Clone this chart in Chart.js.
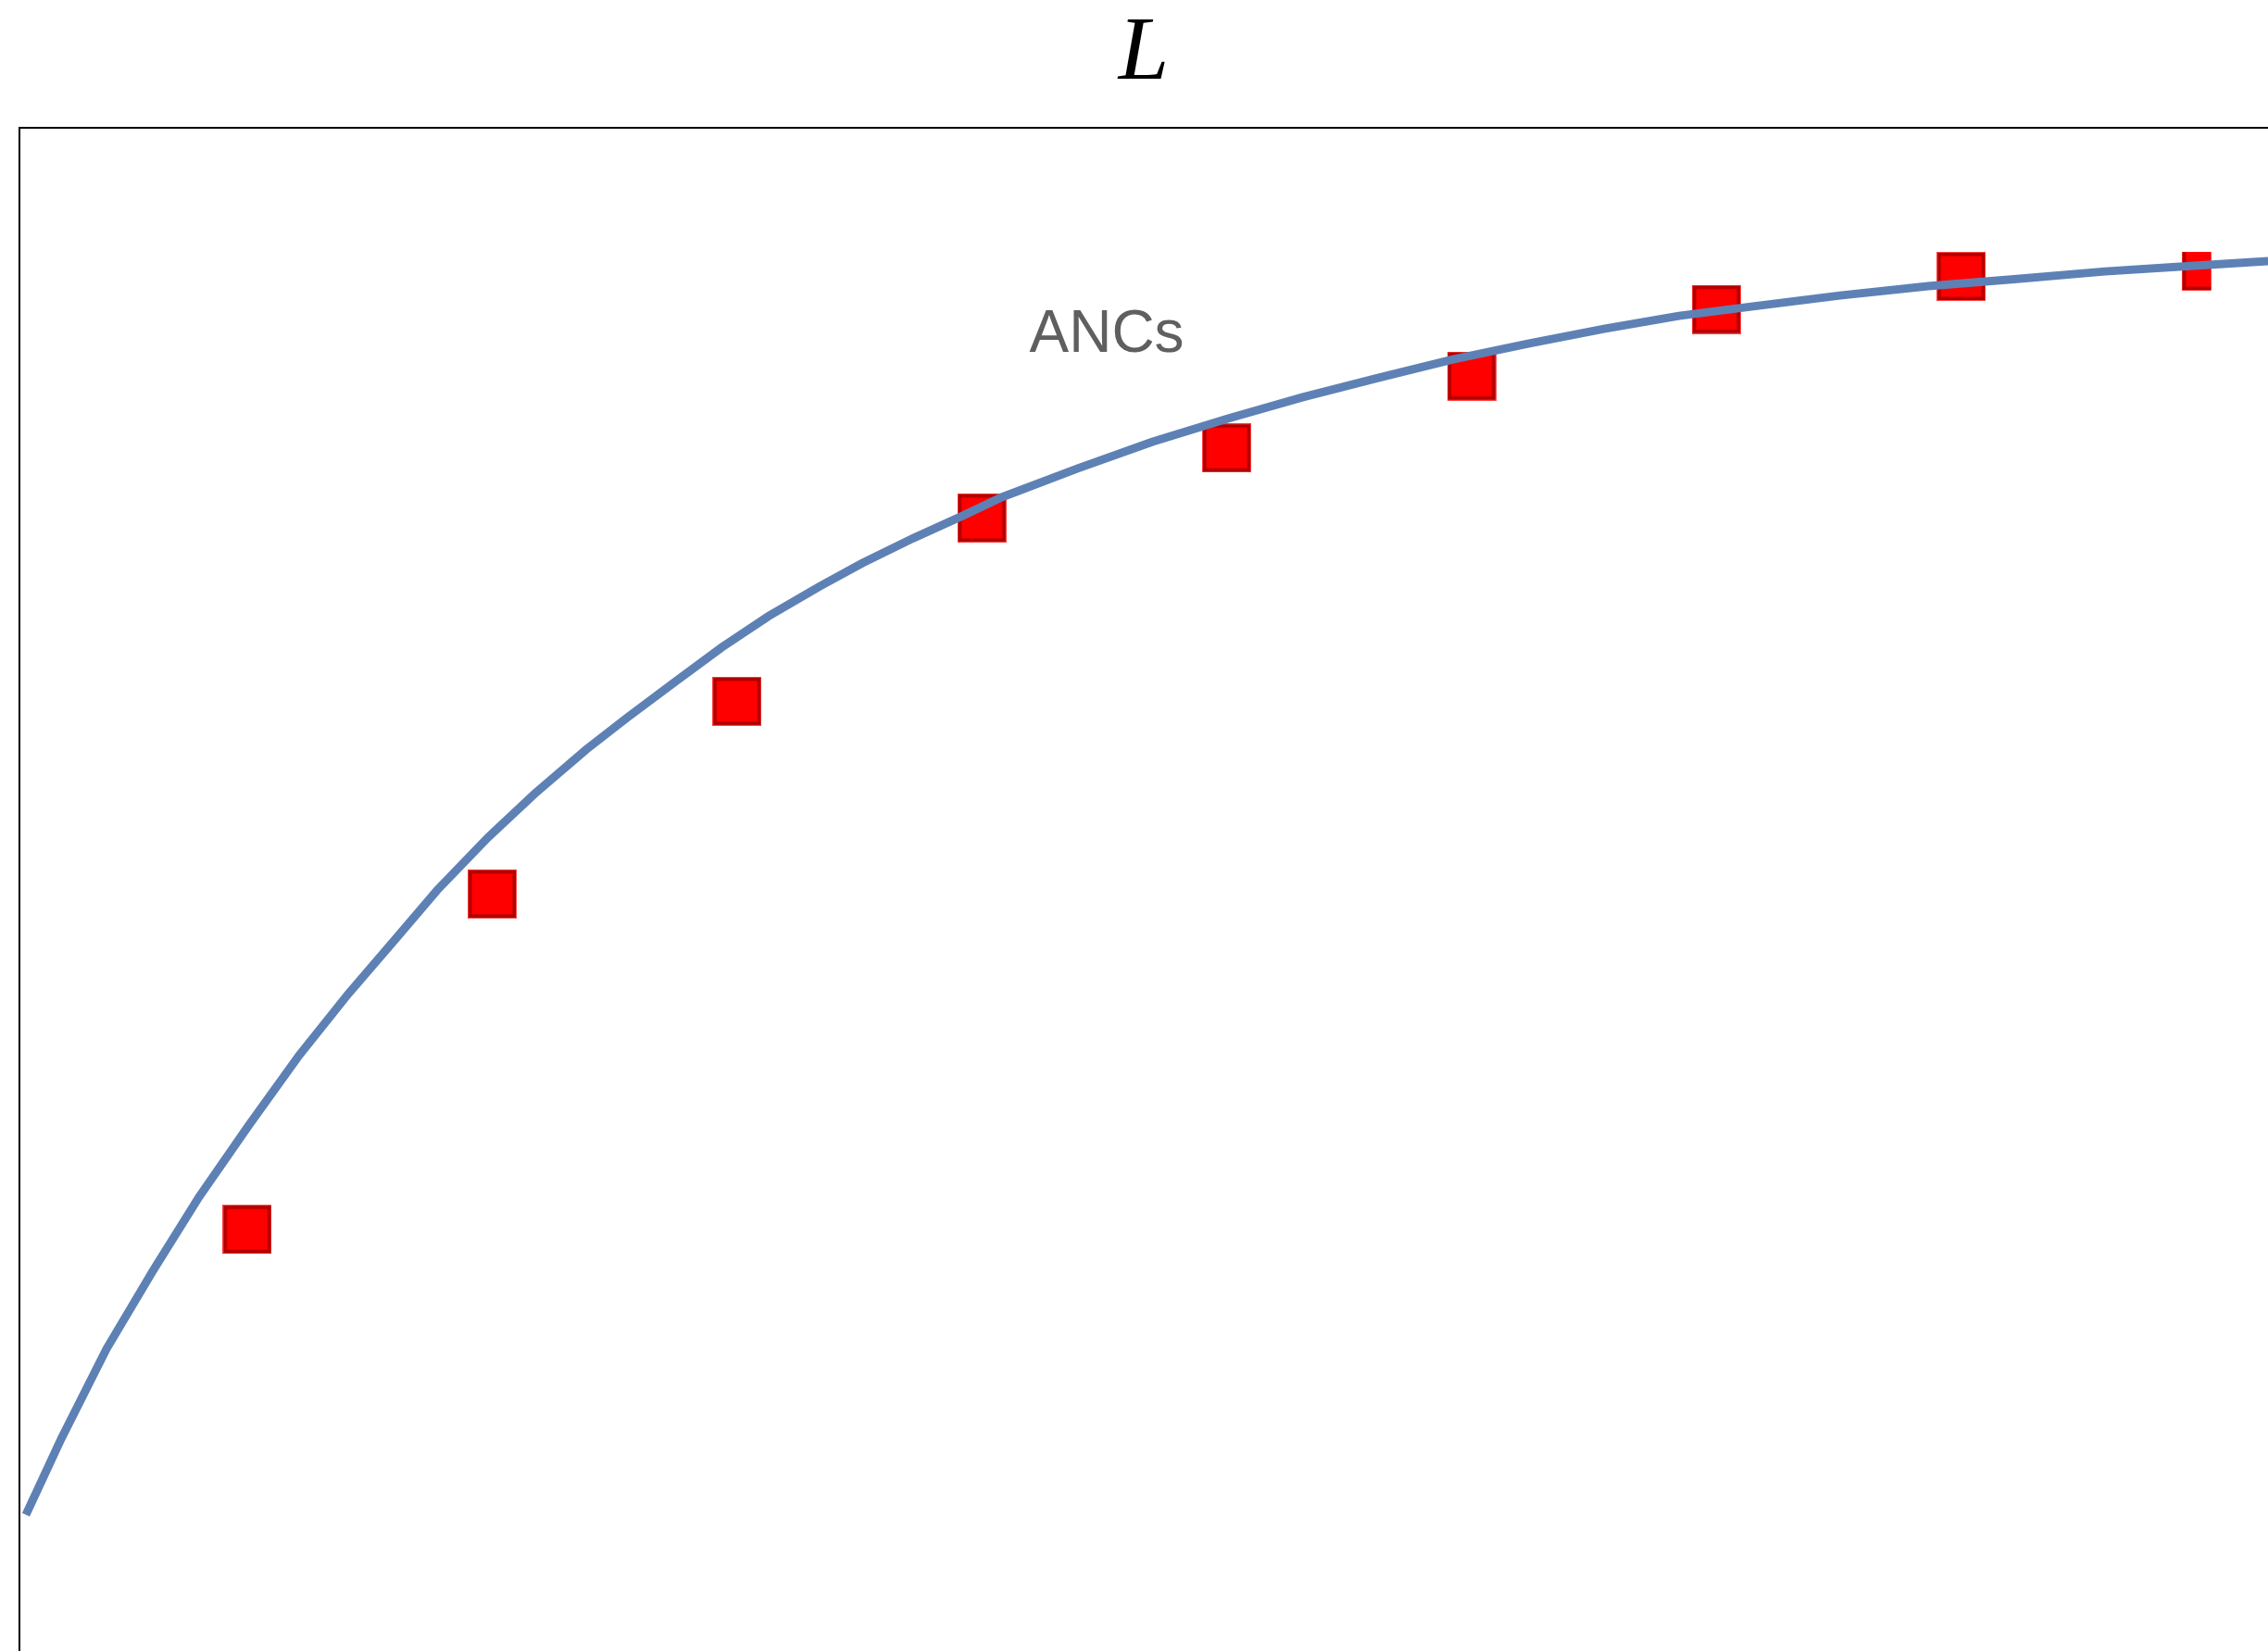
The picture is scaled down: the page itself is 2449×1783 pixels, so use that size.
<!DOCTYPE html>
<html>
<head>
<meta charset="utf-8">
<script src="https://cdn.jsdelivr.net/npm/chart.js@4.4.1/dist/chart.umd.min.js"></script>
<style>
  html, body { margin: 0; padding: 0; background: #fff; overflow: hidden; }
  canvas { display: block; }
</style>
</head>
<body>
<canvas id="c" width="2449" height="1783"></canvas>
<script>
const titleText = 'L';
const seriesLabel = 'ANCs';

// red squares
const pointX = [1, 2, 3, 4, 5, 6, 7, 8, 9];
const pointY = [0.2768, 0.4970, 0.6235, 0.7439, 0.7898, 0.8370, 0.8808, 0.9024, 0.9091];

// blue curve
const curveX = [0.096, 0.240, 0.425, 0.614, 0.803, 1.008, 1.212, 1.412, 1.617, 1.775,
  1.983, 2.173, 2.384, 2.554, 2.747, 2.937, 3.129, 3.337, 3.511, 3.719,
  3.927, 4.079, 4.389, 4.695, 5.002, 5.308, 5.618, 5.924, 6.231, 6.541,
  6.847, 7.142, 7.505, 7.865, 8.228, 8.587, 8.950, 9.253];
const curveY = [0.0894, 0.1393, 0.1983, 0.2494, 0.2981, 0.3455, 0.3911, 0.4313, 0.4696, 0.4994,
  0.5341, 0.5627, 0.5918, 0.6131, 0.6363, 0.6588, 0.6794, 0.6989, 0.7141, 0.7305,
  0.7457, 0.7573, 0.7762, 0.7938, 0.8090, 0.8230, 0.8358, 0.8479, 0.8583, 0.8680,
  0.8765, 0.8826, 0.8899, 0.8960, 0.9008, 0.9057, 0.9094, 0.9124];

const xRange = [0.0696, 9.2526];
const yRange = [0, 1];
const labelAt = [4.51, 0.8635];

// square marker drawn into a small canvas (last one is cut off in the original)
function square(w, top) {
  let s = 53;
  let c = document.createElement('canvas');
  c.width = s; c.height = s;
  let g = c.getContext('2d');
  g.beginPath();
  g.rect(0, top, w, s - top);
  g.clip();
  g.fillStyle = '#ff4040'; g.fillRect(0, 0, s, s);
  g.fillStyle = '#b00000'; g.fillRect(1, 1, s - 2, s - 2);
  g.fillStyle = '#ff0000'; g.fillRect(4.5, 4.5, s - 9, s - 9);
  return c;
}

const styles = pointX.map((x, i) => i == pointX.length - 1 ? square(32, 11) : square(53, 0));

const labelPlugin = {
  id: 'ancs',
  afterDatasetsDraw(chart) {
    let ctx = chart.ctx;
    let xs = chart.scales.x, ys = chart.scales.y;
    ctx.save();
    ctx.font = '64px "Liberation Sans", Arial, sans-serif';
    ctx.fillStyle = '#5f5f5f';
    ctx.textAlign = 'center';
    ctx.textBaseline = 'middle';
    ctx.fillText(seriesLabel, xs.getPixelForValue(labelAt[0]), ys.getPixelForValue(labelAt[1]));
    ctx.restore();
  }
};

const titleSize = 98, titleLH = 1.2;

new Chart(document.getElementById('c'), {
  type: 'scatter',
  data: {
    datasets: [
      {
        label: seriesLabel,
        data: curveX.map((x, i) => ({x: x, y: curveY[i]})),
        showLine: true,
        borderColor: '#5e81b5',
        borderWidth: 9,
        borderCapStyle: 'butt',
        pointRadius: 0,
        tension: 0,
        order: 0
      },
      {
        label: 'data',
        data: pointX.map((x, i) => ({x: x, y: pointY[i]})),
        pointStyle: styles,
        pointRadius: 26,
        order: 1
      }
    ]
  },
  options: {
    responsive: false,
    devicePixelRatio: 1,
    animation: false,
    layout: { padding: 0, autoPadding: false },
    plugins: {
      legend: { display: false },
      tooltip: { enabled: false },
      title: {
        display: true,
        text: titleText,
        fullSize: false,
        color: '#000',
        padding: 0,
        font: { family: '"Liberation Serif", "Times New Roman", serif', style: 'italic', size: titleSize, lineHeight: titleLH, weight: 'normal' }
      }
    },
    scales: {
      x: {
        type: 'linear',
        position: 'top',
        min: xRange[0], max: xRange[1],
        grid: { display: false },
        ticks: { display: false },
        border: { display: true, color: '#000', width: 2 },
        afterFit(s) { s.height = 138 - titleSize * titleLH; }
      },
      y: {
        type: 'linear',
        position: 'left',
        min: yRange[0], max: yRange[1],
        grid: { display: false },
        ticks: { display: false },
        border: { display: true, color: '#000', width: 2 },
        afterFit(s) { s.width = 21; }
      }
    }
  },
  plugins: [labelPlugin]
});
</script>
</body>
</html>
